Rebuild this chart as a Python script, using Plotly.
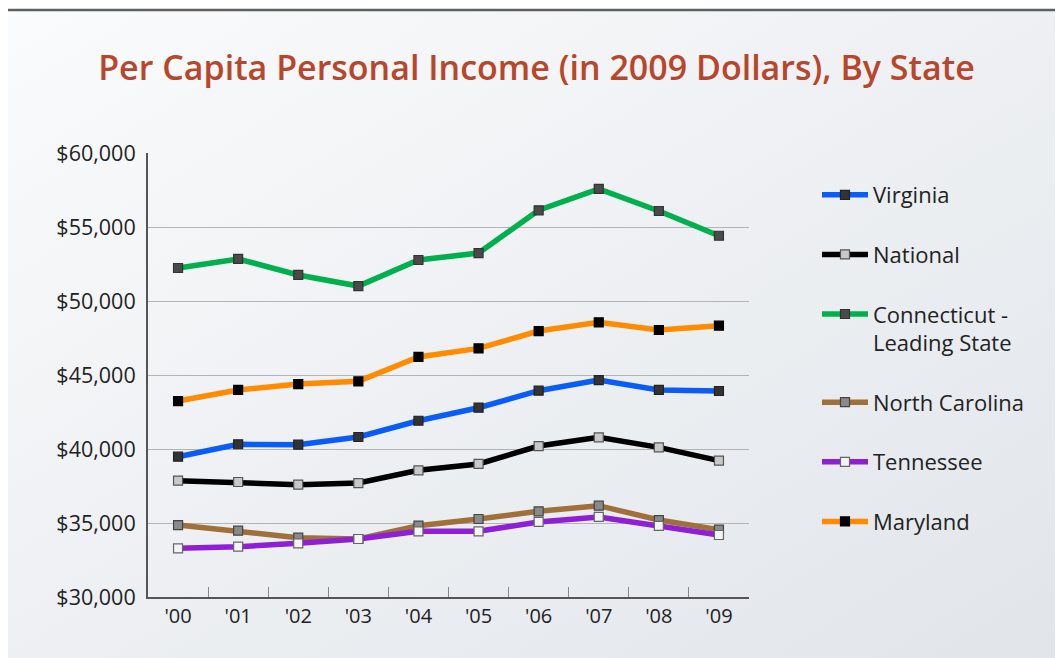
import base64
import plotly.graph_objects as go

years = ["'00", "'01", "'02", "'03", "'04", "'05", "'06", "'07", "'08", "'09"]

virginia = [39480, 40320, 40290, 40810, 41910, 42790, 43940, 44660, 43990, 43920]
national = [37860, 37770, 37590, 37700, 38560, 38990, 40200, 40790, 40110, 39210]
connecticut = [52230, 52840, 51760, 51010, 52770, 53240, 56130, 57570, 56080, 54410]
north_carolina = [34860, 34480, 34010, 33920, 34820, 35270, 35790, 36170, 35200, 34550]
tennessee = [33290, 33400, 33630, 33920, 34440, 34440, 35070, 35410, 34800, 34190]
maryland = [43240, 43990, 44390, 44570, 46220, 46800, 47970, 48560, 48040, 48330]

series = [
    ("Virginia", virginia, "#0a5cf7", "#333333", "#222222"),
    ("National", national, "#000000", "#c8c8c8", "#555555"),
    ("Connecticut -<br>Leading State", connecticut, "#00b04f", "#4a4a4a", "#333333"),
    ("North Carolina", north_carolina, "#a0703a", "#8a8a8a", "#444444"),
    ("Tennessee", tennessee, "#8e1fd6", "#f4f4f4", "#666666"),
    ("Maryland", maryland, "#ff8c00", "#000000", "#000000"),
]

fig = go.Figure()
order = [3, 4, 1, 0, 5, 2]
for i, (name, vals, col, mfill, mline) in enumerate(series):
    fig.add_trace(go.Scatter(
        x=years, y=vals, name=name, mode="lines+markers",
        line=dict(color=col, width=5.5),
        marker=dict(symbol="square", size=9, color=mfill,
                    line=dict(color=mline, width=1.2)),
        legendgroup=name, legendrank=i + 1,
    ))
fig.data = tuple(fig.data[i] for i in order)

svg = ('<svg xmlns="http://www.w3.org/2000/svg" width="100" height="100" preserveAspectRatio="none">'
       '<defs><linearGradient id="g" x1="0" y1="0" x2="1" y2="1">'
       '<stop offset="0" stop-color="#fafbfc"/><stop offset="1" stop-color="#e1e5ea"/>'
       '</linearGradient></defs><rect width="100" height="100" fill="url(#g)"/></svg>')
uri = "data:image/svg+xml;base64," + base64.b64encode(svg.encode()).decode()

# page offset of 8px (browser body margin)
OFF = 8
W, H = 1063 - OFF, 658 - OFF
PL, PR, PT, PB = 148, 749, 153, 597


def px(x):
    return (x - PL) / (PR - PL)


def py(y):
    return (PB - y) / (PB - PT)


fig.update_layout(
    width=W, height=H,
    paper_bgcolor="#ffffff", plot_bgcolor="rgba(0,0,0,0)",
    margin=dict(l=PL - OFF, r=1063 - PR, t=PT - OFF, b=658 - PB),
    font=dict(family="Open Sans, sans-serif", color="#222222"),
    title=dict(text="Per Capita Personal Income (in 2009 Dollars), By State",
               x=(536.5 - OFF) / W, xanchor="center", y=1 - (68 - OFF) / H, yanchor="middle",
               font=dict(size=34, color="#b8462b", family="Open Sans, sans-serif", weight=600)),
    images=[dict(source=uri, xref="paper", yref="paper", x=px(OFF), y=py(11),
                 sizex=(1063 - OFF) / (PR - PL), sizey=(658 - 11) / (PB - PT),
                 xanchor="left", yanchor="top", sizing="stretch", layer="below")],
    shapes=[dict(type="line", xref="paper", yref="paper",
                 x0=px(OFF), x1=px(1063), y0=py(10), y1=py(10),
                 line=dict(color="#5f5f5f", width=2.5))],
    legend=dict(x=px(817), xanchor="left", y=py(174), yanchor="top",
                bgcolor="rgba(0,0,0,0)", font=dict(size=22, color="#222222"),
                tracegroupgap=28, itemwidth=46, valign="top", traceorder="grouped"),
    showlegend=True,
)
fig.update_xaxes(
    type="category", range=[-0.5, 9.5], showgrid=False,
    showline=True, linecolor="#555555", linewidth=2,
    ticks="inside", ticklen=10, tickcolor="#888888", tickwidth=1, tickson="boundaries",
    tickfont=dict(size=20, color="#222222"), ticklabelstandoff=0,
)
fig.update_yaxes(
    range=[30000, 60000], dtick=5000, tick0=30000,
    tickprefix="$", tickformat=",d", showgrid=True, gridcolor="#b4b4b4", gridwidth=1,
    showline=True, linecolor="#555555", linewidth=2, zeroline=False,
    ticks="", tickfont=dict(size=21.5, color="#222222"), ticklabelstandoff=6,
)
fig.write_html("out.html")
